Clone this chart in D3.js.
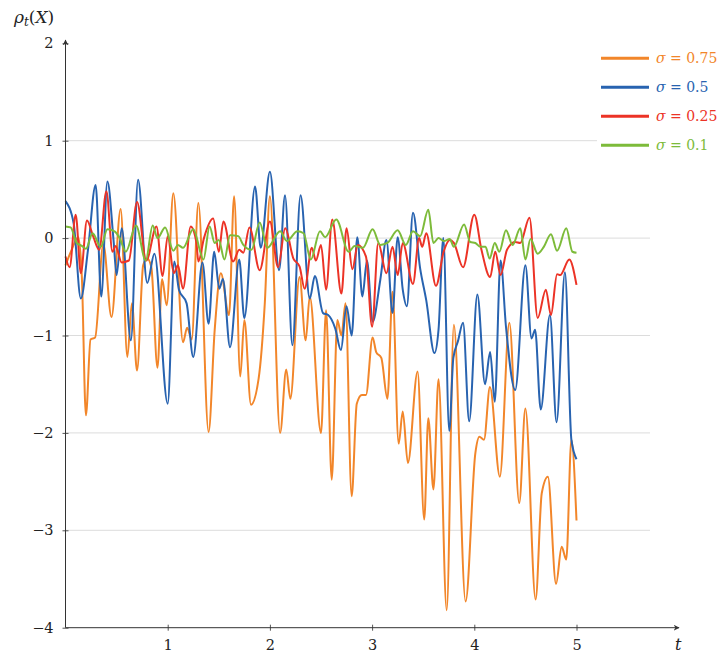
<!DOCTYPE html>
<html>
<head>
<meta charset="utf-8">
<script src="https://cdn.jsdelivr.net/npm/d3@7"></script>
<style>
  body { margin: 0; background: #fff; }
</style>
</head>
<body>
<svg width="721" height="653"></svg>
<script>
// [t, value], roughly at every turning point
var sigma075 = [[0,-0.28],[0.06,-0.12],[0.125,0.01],[0.16,-0.40],[0.20,-1.82],[0.245,-1.04],[0.29,-1.02],[0.37,-0.06],[0.45,-0.81],[0.54,0.30],[0.605,-1.22],[0.65,-0.67],[0.70,-1.36],[0.76,-0.28],[0.80,-0.21],[0.84,-0.30],[0.90,-1.33],[0.945,-0.42],[0.99,-0.69],[1.055,0.46],[1.15,-1.07],[1.19,-0.92],[1.235,-1.04],[1.30,0.36],[1.40,-1.99],[1.46,-0.94],[1.52,-0.36],[1.60,-0.79],[1.65,0.43],[1.71,-1.42],[1.75,-0.84],[1.815,-1.71],[1.89,-1.44],[1.95,-0.67],[2.0,0.43],[2.10,-2.0],[2.16,-1.35],[2.20,-1.65],[2.29,-0.40],[2.35,-1.05],[2.39,-0.60],[2.50,-2.0],[2.55,-0.74],[2.605,-2.48],[2.66,-0.84],[2.70,-1.0],[2.74,-0.67],[2.80,-2.65],[2.85,-1.70],[2.90,-1.61],[2.94,-1.61],[3.005,-1.02],[3.04,-1.17],[3.09,-1.23],[3.15,-1.65],[3.20,-0.55],[3.26,-2.11],[3.30,-1.78],[3.35,-2.31],[3.445,-1.37],[3.51,-2.89],[3.55,-1.85],[3.60,-2.58],[3.65,-1.45],[3.73,-3.82],[3.80,-0.89],[3.915,-3.73],[4.01,-2.21],[4.05,-2.04],[4.095,-2.07],[4.153,-1.53],[4.25,-2.45],[4.343,-0.87],[4.44,-2.72],[4.50,-1.75],[4.60,-3.71],[4.66,-2.62],[4.72,-2.45],[4.80,-3.55],[4.855,-3.17],[4.90,-3.30],[4.95,-2.07],[5.0,-2.90]];

var sigma05 = [[0,0.38],[0.08,0.15],[0.15,-0.62],[0.22,-0.12],[0.295,0.545],[0.35,-0.60],[0.41,0.58],[0.47,-0.02],[0.50,-0.38],[0.55,0.10],[0.64,-1.05],[0.71,0.60],[0.80,-0.46],[0.87,-0.16],[1.00,-1.70],[1.065,-0.24],[1.11,-0.53],[1.185,-0.67],[1.25,-1.22],[1.34,-0.25],[1.40,-0.88],[1.455,-0.14],[1.505,-0.52],[1.54,-0.42],[1.61,-1.12],[1.70,-0.22],[1.75,-0.82],[1.855,0.53],[1.91,-0.10],[2.00,0.68],[2.09,-0.33],[2.148,0.44],[2.22,-1.10],[2.30,0.44],[2.39,-0.62],[2.44,-0.39],[2.52,-0.77],[2.57,-0.79],[2.64,-0.93],[2.695,-1.15],[2.75,-0.70],[2.80,-1.0],[2.855,0.01],[2.905,-0.60],[2.95,-0.23],[3.005,-0.86],[3.08,-0.43],[3.14,-0.02],[3.20,-0.77],[3.25,0.01],[3.30,-0.53],[3.34,-0.70],[3.40,0.26],[3.47,-0.31],[3.53,-0.64],[3.61,-1.18],[3.65,-0.94],[3.697,0.0],[3.755,-1.98],[3.795,-1.23],[3.84,-1.06],[3.89,-0.87],[3.95,-1.88],[4.03,-0.58],[4.105,-1.50],[4.155,-1.17],[4.20,-1.68],[4.257,-0.23],[4.31,-0.91],[4.40,-1.56],[4.50,-0.28],[4.56,-1.03],[4.595,-0.94],[4.65,-1.76],[4.74,-0.79],[4.805,-1.89],[4.887,-0.35],[4.95,-2.07],[5.0,-2.27]];

var sigma025 = [[0,-0.19],[0.04,-0.30],[0.10,0.24],[0.15,-0.36],[0.21,0.18],[0.27,0.02],[0.33,-0.12],[0.40,0.48],[0.46,-0.14],[0.49,-0.08],[0.55,-0.25],[0.62,-0.23],[0.70,0.37],[0.79,-0.23],[0.89,0.12],[0.95,-0.39],[1.0,0.02],[1.06,-0.36],[1.10,-0.28],[1.15,-0.52],[1.225,0.12],[1.28,-0.04],[1.30,-0.24],[1.355,0.0],[1.445,0.20],[1.50,-0.14],[1.545,0.17],[1.64,-0.24],[1.70,-0.12],[1.74,-0.15],[1.80,0.11],[1.90,-0.33],[2.0,0.17],[2.08,-0.30],[2.15,0.10],[2.23,-0.21],[2.29,-0.29],[2.34,-0.52],[2.41,-0.10],[2.45,-0.23],[2.50,-0.07],[2.55,-0.53],[2.61,0.19],[2.70,-0.57],[2.75,0.10],[2.807,-0.32],[2.86,-0.07],[2.94,-0.19],[3.0,-0.91],[3.06,-0.05],[3.14,-0.36],[3.20,-0.09],[3.25,-0.38],[3.30,-0.05],[3.40,-0.47],[3.46,0.0],[3.49,-0.09],[3.53,0.05],[3.625,-0.49],[3.70,-0.14],[3.76,-0.02],[3.80,-0.05],[3.89,-0.30],[4.0,0.24],[4.07,-0.12],[4.155,-0.40],[4.205,-0.14],[4.257,-0.38],[4.32,-0.12],[4.40,-0.04],[4.45,-0.05],[4.54,0.21],[4.62,-0.82],[4.70,-0.53],[4.75,-0.79],[4.81,-0.37],[4.84,-0.38],[4.93,-0.22],[5.0,-0.48]];

var sigma01 = [[0,0.12],[0.05,0.11],[0.11,-0.05],[0.16,-0.08],[0.20,-0.11],[0.265,0.05],[0.345,-0.09],[0.41,0.09],[0.48,0.07],[0.53,0.0],[0.59,-0.14],[0.69,0.13],[0.785,-0.23],[0.853,0.13],[0.90,0.0],[0.975,0.11],[1.055,-0.13],[1.10,-0.07],[1.15,-0.10],[1.25,0.09],[1.35,-0.22],[1.41,0.12],[1.46,-0.05],[1.50,-0.02],[1.555,-0.22],[1.61,0.03],[1.69,0.02],[1.74,-0.07],[1.82,-0.12],[1.90,0.16],[1.975,-0.10],[2.10,0.07],[2.165,-0.03],[2.27,0.07],[2.33,0.05],[2.40,-0.22],[2.49,0.07],[2.54,0.01],[2.65,0.19],[2.77,-0.14],[2.83,-0.08],[2.91,-0.10],[3.005,0.09],[3.08,-0.07],[3.15,-0.05],[3.25,0.08],[3.33,-0.07],[3.40,0.07],[3.47,0.02],[3.55,0.29],[3.60,-0.05],[3.65,0.0],[3.70,-0.03],[3.76,-0.01],[3.80,-0.09],[3.90,0.14],[3.96,-0.04],[4.01,-0.05],[4.06,-0.09],[4.11,-0.09],[4.15,-0.21],[4.20,-0.05],[4.245,-0.14],[4.31,0.08],[4.375,-0.07],[4.45,0.10],[4.50,-0.22],[4.55,-0.01],[4.62,-0.16],[4.68,-0.09],[4.75,0.04],[4.81,-0.13],[4.90,0.10],[4.96,-0.14],[5.0,-0.15]];

var sigmaLabels = ["0.75", "0.5", "0.25", "0.1"];
var xTicks = [1, 2, 3, 4, 5];
var yTicks = [-4, -3, -2, -1, 0, 1, 2];
var gridValues = [-3, -2, -1, 0, 1];

var series = [
    { label: sigmaLabels[0], color: "#f2862a", data: sigma075 },
    { label: sigmaLabels[1], color: "#2863b0", data: sigma05 },
    { label: sigmaLabels[2], color: "#ec3326", data: sigma025 },
    { label: sigmaLabels[3], color: "#7dbb3a", data: sigma01 }
];

var serif = "'DejaVu Serif', serif";

var svg = d3.select("svg");

var x = d3.scaleLinear().domain([0, 6]).range([65.5, 678.7]);
var y = d3.scaleLinear().domain([-4, 2]).range([627.7, 43.3]);

var defs = svg.append("defs");
defs.append("marker")
    .attr("id", "arrow")
    .attr("viewBox", "0 0 10 10")
    .attr("refX", 9).attr("refY", 5)
    .attr("markerWidth", 6).attr("markerHeight", 6)
    .attr("markerUnits", "userSpaceOnUse")
    .attr("orient", "auto")
    .append("path")
    .attr("d", "M0,0 L10,5 L0,10 L3,5 Z")
    .attr("fill", "#333");

// grid
svg.append("g").selectAll("line")
    .data(gridValues)
    .enter().append("line")
    .attr("x1", x(0)).attr("x2", 650)
    .attr("y1", d => y(d)).attr("y2", d => y(d))
    .attr("stroke", "#dcdcdc")
    .attr("stroke-width", 1);

// lines
var line = d3.line()
    .x(d => x(d[0]))
    .y(d => y(d[1]))
    .curve(d3.curveMonotoneX);

svg.append("g").selectAll("path")
    .data(series)
    .enter().append("path")
    .attr("d", d => line(d.data))
    .attr("fill", "none")
    .attr("stroke", d => d.color)
    .attr("stroke-width", 2)
    .attr("stroke-linejoin", "round");

// axes
var xAxis = svg.append("g")
    .attr("transform", "translate(0," + y(-4) + ")")
    .call(d3.axisBottom(x).tickValues(xTicks).tickSize(3).tickPadding(9).tickFormat(d3.format("d")));
var yAxis = svg.append("g")
    .attr("transform", "translate(" + x(0) + ",0)")
    .call(d3.axisLeft(y).tickValues(yTicks).tickSize(3).tickPadding(9)
        .tickFormat(d => d < 0 ? "\u2212" + Math.abs(d) : d));

[xAxis, yAxis].forEach(a => {
    a.attr("font-family", serif).attr("font-size", 14.5);
    a.select(".domain").remove();
    a.selectAll("text").attr("fill", "#222");
    a.selectAll(".tick line").attr("stroke", "#555");
});
xAxis.selectAll(".tick line").attr("y1", -3).attr("y2", 3);
yAxis.selectAll(".tick line").attr("x1", -3).attr("x2", 3);

svg.append("line")
    .attr("x1", x(0)).attr("y1", y(-4))
    .attr("x2", 679).attr("y2", y(-4))
    .attr("stroke", "#333").attr("stroke-width", 1)
    .attr("marker-end", "url(#arrow)");
svg.append("line")
    .attr("x1", x(0)).attr("y1", y(-4))
    .attr("x2", x(0)).attr("y2", 40)
    .attr("stroke", "#333").attr("stroke-width", 1)
    .attr("marker-end", "url(#arrow)");

// axis names
svg.append("text")
    .attr("x", 675).attr("y", 650)
    .attr("font-family", serif)
    .attr("font-size", 16).attr("font-style", "italic")
    .attr("fill", "#222")
    .text("t");

var yName = svg.append("text")
    .attr("x", 14).attr("y", 23)
    .attr("font-family", serif)
    .attr("font-size", 17)
    .attr("fill", "#222");
yName.append("tspan").attr("font-style", "italic").text("\u03c1");
yName.append("tspan").attr("font-style", "italic").attr("font-size", 12).attr("dy", 3).text("t");
yName.append("tspan").attr("dy", -3).text("(");
yName.append("tspan").attr("font-style", "italic").text("X");
yName.append("tspan").text(")");

// legend
svg.append("rect")
    .attr("x", 597).attr("y", 46)
    .attr("width", 124).attr("height", 110)
    .attr("fill", "#fff");

var legend = svg.append("g").selectAll("g")
    .data(series)
    .enter().append("g")
    .attr("transform", (d, i) => "translate(601," + (58.3 + i * 29) + ")");

legend.append("line")
    .attr("x1", 0).attr("x2", 48)
    .attr("stroke", d => d.color)
    .attr("stroke-width", 3);

var legendText = legend.append("text")
    .attr("x", 55).attr("y", 5)
    .attr("font-family", serif)
    .attr("font-size", 14)
    .attr("fill", d => d.color);
legendText.append("tspan").attr("font-style", "italic").text("\u03c3");
legendText.append("tspan").text(d => " = " + d.label);
</script>
</body>
</html>
